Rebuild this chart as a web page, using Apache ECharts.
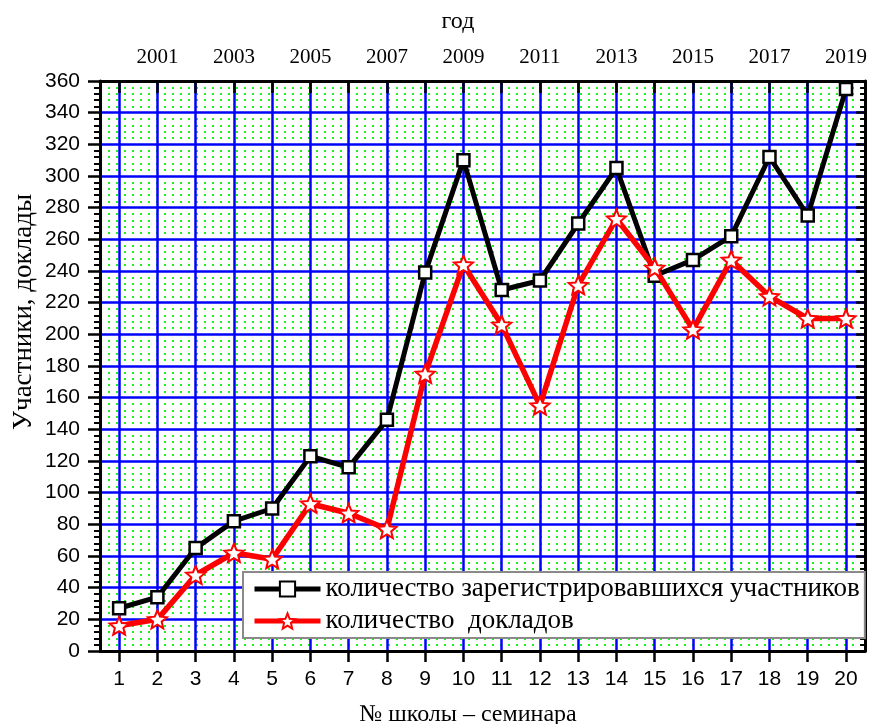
<!DOCTYPE html>
<html>
<head>
<meta charset="utf-8">
<script src="https://cdn.jsdelivr.net/npm/echarts@6/dist/echarts.min.js"></script>
<style>
  html, body { margin: 0; padding: 0; background: #fff; }
  #chart { width: 870px; height: 724px; }
</style>
</head>
<body>
<div id="chart"></div>
<script>
// School-seminar number (bottom axis) and the year it was held (top axis)
const schools = [1, 2, 3, 4, 5, 6, 7, 8, 9, 10, 11, 12, 13, 14, 15, 16, 17, 18, 19, 20];
const yearTickPositions = [2, 4, 6, 8, 10, 12, 14, 16, 18, 20];
const yearLabels = ['2001', '2003', '2005', '2007', '2009', '2011', '2013', '2015', '2017', '2019'];

// Registered participants and number of talks per school
const participants = [27, 34, 65, 82, 90, 123, 116, 146, 239, 310, 228, 234, 270, 305, 237, 247, 262, 312, 275, 355];
const reports = [16, 20, 48, 62, 58, 93, 87, 77, 175, 244, 206, 155, 231, 273, 242, 203, 247, 224, 210, 210];

const seriesNames = ['количество зарегистрировавшихся участников', 'количество  докладов'];

const SERIF = "'Liberation Serif', 'Times New Roman', serif";
const SANS = "'Liberation Sans', Arial, sans-serif";

const STAR = 'path://M50,0 L63.23,31.8 L97.55,34.55 L71.4,56.95 L79.39,90.45 L50,72.5 L20.61,90.45 L28.6,56.95 L2.45,34.55 L36.77,31.8 Z';

const chart = echarts.init(document.getElementById('chart'), null, { renderer: 'canvas' });

const pairs = (ys) => schools.map((s, i) => [s, ys[i]]);

const option = {
  animation: false,
  backgroundColor: '#fff',
  grid: { left: 100, right: 4, top: 81, bottom: 73, containLabel: false },
  xAxis: [
    {
      type: 'value', position: 'bottom', min: 0.5, max: 20.5,
      axisLine: { show: true, onZero: false, lineStyle: { color: '#000', width: 3 } },
      axisTick: { show: true, inside: false, length: 11, customValues: schools, lineStyle: { color: '#000', width: 2.5 } },
      axisLabel: { customValues: schools, margin: 18, color: '#000', fontFamily: SANS, fontSize: 21 },
      splitLine: { show: true, lineStyle: { color: '#0000ff', width: 2.5 } }
    },
    {
      type: 'value', position: 'top', min: 0.5, max: 20.5,
      axisLine: { show: true, onZero: false, lineStyle: { color: '#000', width: 3 } },
      axisTick: { show: true, inside: true, length: 12, customValues: schools, lineStyle: { color: '#000', width: 2.5 } },
      axisLabel: {
        customValues: yearTickPositions, margin: 13, color: '#000', fontFamily: SERIF, fontSize: 21,
        formatter: (v) => yearLabels[yearTickPositions.indexOf(Math.round(v))] || ''
      },
      splitLine: { show: false }
    }
  ],
  yAxis: [
    {
      type: 'value', position: 'left', min: 0, max: 360, interval: 20,
      axisLine: { show: true, onZero: false, lineStyle: { color: '#000', width: 3 } },
      axisTick: { show: true, inside: false, length: 12, lineStyle: { color: '#000', width: 2.5 } },
      minorTick: { show: true, splitNumber: 5, length: 6, lineStyle: { color: '#000', width: 2 } },
      axisLabel: { margin: 20, color: '#000', fontFamily: SANS, fontSize: 21 },
      splitLine: { show: true, lineStyle: { color: '#0000ff', width: 2.5 } },
      minorSplitLine: { show: true, lineStyle: { color: '#1ff01f', width: 1.8, type: [2, 6] } }
    },
    {
      type: 'value', position: 'right', min: 0, max: 360, interval: 20,
      axisLine: { show: true, onZero: false, lineStyle: { color: '#000', width: 3 } },
      axisTick: { show: true, inside: true, length: 9, lineStyle: { color: '#000', width: 2.5 } },
      minorTick: { show: true, splitNumber: 5, length: 5, lineStyle: { color: '#000', width: 2 } },
      axisLabel: { show: false },
      splitLine: { show: false }
    }
  ],
  legend: {
    orient: 'vertical',
    left: 243, top: 572,
    padding: [3, 5, 3, 9],
    itemGap: 4,
    itemWidth: 66, itemHeight: 19,
    backgroundColor: '#fff',
    borderColor: '#8a8a8a', borderWidth: 2,
    lineStyle: { width: 5 },
    textStyle: { color: '#000', fontFamily: SERIF, fontSize: 27, lineHeight: 28 },
    data: seriesNames
  },
  series: [
    {
      name: seriesNames[0], type: 'line', xAxisIndex: 0, yAxisIndex: 0,
      data: pairs(participants),
      symbol: 'rect', symbolSize: 12,
      lineStyle: { color: '#000', width: 5 },
      itemStyle: { color: '#fff', borderColor: '#000', borderWidth: 2.5 },
      z: 3
    },
    {
      name: seriesNames[1], type: 'line', xAxisIndex: 0, yAxisIndex: 0,
      data: pairs(reports),
      symbol: STAR, symbolSize: [19, 18],
      lineStyle: { color: '#ff0000', width: 5.5 },
      itemStyle: { color: '#fff', borderColor: '#ff0000', borderWidth: 2 },
      z: 4
    }
  ],
  graphic: [
    {
      type: 'text', x: 458, y: 22,
      style: { text: 'год', fill: '#000', font: "24px " + SERIF, align: 'center', verticalAlign: 'middle' }
    },
    {
      type: 'text', x: 24, y: 312, rotation: Math.PI / 2, originX: 0, originY: 0,
      style: { text: 'Участники, доклады', fill: '#000', font: "27px " + SERIF, align: 'center', verticalAlign: 'middle' }
    },
    {
      type: 'text', x: 468, y: 715,
      style: { text: '№ школы – семинара', fill: '#000', font: "24px " + SERIF, align: 'center', verticalAlign: 'middle' }
    }
  ]
};

chart.setOption(option);
</script>
</body>
</html>
